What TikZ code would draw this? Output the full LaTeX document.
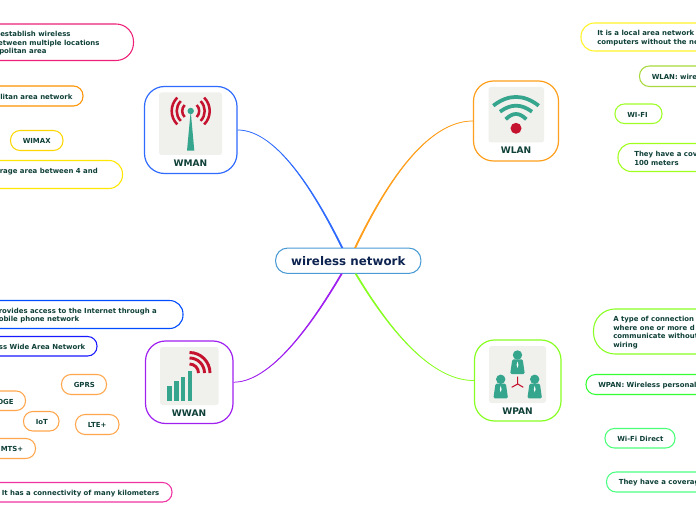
\documentclass[tikz,border=0pt]{standalone}
\usepackage{fontspec}
\setmainfont{DejaVu Sans}
\usetikzlibrary{calc}
\definecolor{ink}{HTML}{0F4038}
\definecolor{navy}{HTML}{0D2350}
\definecolor{teal}{HTML}{35A58D}
\definecolor{redi}{HTML}{C4122F}
\definecolor{iconbg}{HTML}{F0F0EC}
\definecolor{cblue}{HTML}{2F6BFF}
\definecolor{cor}{HTML}{FF9F1C}
\definecolor{cpur}{HTML}{A020F0}
\definecolor{cgrn}{HTML}{88FF22}
\definecolor{croot}{HTML}{4A9BD4}
\tikzset{
 pillbox/.style={draw,line width=0.8pt,fill=white,inner sep=0pt},
 pilltext/.style={inner sep=0pt,align=left,text=ink,anchor=west,
   font=\fontsize{5.2pt}{6.4pt}\selectfont\bfseries},
 branch/.style={draw,line width=0.9pt,fill=white,rounded corners=15pt},
 blabel/.style={text=ink,font=\fontsize{6.8pt}{8pt}\selectfont\bfseries,inner sep=0pt},
 iconback/.style={fill=iconbg,draw=none,rounded corners=2pt},
}
\newcommand{\pillnode}[8]{%
 \pgfmathsetmacro\pw{(#3-#2)*0.75}\pgfmathsetmacro\ph{(#5-#4)*0.75}%
 \pgfmathsetmacro\rr{0.48*\ph}%
 \node[pillbox,draw=#6,minimum width=\pw pt,minimum height=\ph pt,rounded corners=\rr pt] (#1) at ({(#2+#3)/2},{(#4+#5)/2}) {};
 \node[pilltext] (#1t) at ({#2+#8},{(#4+#5)/2+0.9}) {#7};}
\newcommand{\branchnode}[6]{%
 \pgfmathsetmacro\pw{(#3-#2)*0.75}\pgfmathsetmacro\ph{(#5-#4)*0.75}%
 \node[branch,draw=#6,minimum width=\pw pt,minimum height=\ph pt] (#1) at ({(#2+#3)/2},{(#4+#5)/2}) {};}
% tapered connector: colour, from, to, bend point
\newcommand{\linkcurve}[4]{%
 \path[fill=#1,draw=#1,line width=0.55pt]
  ($(#2)+(-0.6,0)$) .. controls ($(#2)!.667!(#4)+(-0.4,0)$) and ($(#3)!.667!(#4)+(0,-0.1)$) .. (#3)
  .. controls ($(#3)!.667!(#4)+(0,0.1)$) and ($(#2)!.667!(#4)+(0.4,0)$) .. ($(#2)+(0.6,0)$) -- cycle;}
\begin{document}
\begin{tikzpicture}[x=0.75pt,y=-0.75pt]
\useasboundingbox (0,0) rectangle (696,520);
\clip (0,0) rectangle (696,520);
\node[draw=white,fill=white,minimum width=522pt,minimum height=390pt,inner sep=0pt,line width=0pt] (page) at (348,260) {};
% central
\node[draw=croot,line width=0.8pt,fill=white,rounded corners=9pt,minimum width=109pt,minimum height=19pt,inner sep=0pt,text=navy,font=\fontsize{8.9pt}{10pt}\selectfont\bfseries] (root) at (348.25,260.75) {wireless network};
% branches
\branchnode{wman}{144.5}{237}{86.5}{173.5}{cblue}
\branchnode{wlan}{473.5}{558.5}{81}{161}{cor}
\branchnode{wwan}{145.5}{233}{341}{423.5}{cpur}
\branchnode{wpan}{474.5}{561}{340}{421}{cgrn}
\node[blabel] (wmanl) at (190.5,163) {WMAN};
\node[blabel] (wlanl) at (516,149.7) {WLAN};
\node[blabel] (wwanl) at (189,413) {WWAN};
\node[blabel] (wpanl) at (517.5,411) {WPAN};
% connectors
\linkcurve{cblue}{root.115}{wman.east}{284,130}
\linkcurve{cor}{root.62}{wlan.west}{416,121}
\linkcurve{cpur}{root.243}{wwan.east}{278,382}
\linkcurve{cgrn}{root.300.5}{wpan.west}{420,380.7}
% left pills
\pillnode{a1}{-23}{133.5}{24}{60.5}{magenta!70!red!90!white}{\hspace*{5.25pt}establish wireless\\between multiple locations\\\hspace*{4.5pt}politan area}{16}
\pillnode{a2}{-12}{83}{86}{106}{orange!85!yellow}{litan area network}{12}
\pillnode{a3}{10.5}{63}{130.5}{150.5}{yellow!75!orange}{WIMAX}{12}
\pillnode{a4}{-16.5}{122.5}{160.5}{188.5}{yellow!90!orange}{rage area between 4 and\\\mbox{}}{16}
\pillnode{b1}{-17.5}{183}{300.5}{328.5}{blue!70!cyan}{rovides access to the Internet through a\\obile phone network}{16}
\pillnode{b2}{-13.3}{97}{336.5}{356}{blue!90!white}{ss Wide Area Network}{12}
\pillnode{b3}{61.5}{106.5}{374.5}{394.5}{orange!70!white}{GPRS}{12}
\pillnode{b4}{-15}{25.5}{391}{410.5}{orange!70!white}{OGE}{12}
\pillnode{b5}{23.5}{59}{411.5}{431}{orange!70!white}{IoT}{12}
\pillnode{b6}{75.5}{119}{414.5}{434.5}{orange!70!white}{LTE+}{12}
\pillnode{b7}{-11.5}{35.5}{438.5}{458.5}{orange!70!white}{MTS+}{12}
\pillnode{b8}{-10.5}{172}{482.5}{502}{magenta!80!white}{It has a connectivity of many kilometers}{12}
% right pills
\pillnode{c1}{581}{760}{23}{51}{yellow!85!white}{It is a local area network\\computers without the ne}{16}
\pillnode{c2}{639.5}{760}{66}{86.5}{yellow!60!green!85!white}{WLAN: wire}{12}
\pillnode{c3}{615}{662}{104}{123.5}{green!45!yellow!85!white}{WI-FI}{12}
\pillnode{c4}{618}{760}{143.5}{171.5}{cgrn!80!yellow}{They have a cov\\100 meters}{16}
\pillnode{d1}{593.5}{760}{309}{354}{cgrn}{A type of connection\\where one or more d\\communicate without\\wiring}{19.5}
\pillnode{d2}{586}{760}{374.5}{394.5}{green!80!white}{WPAN: Wireless personal}{12}
\pillnode{d3}{605}{675}{428.5}{448}{green!75!cyan!70!white}{Wi-Fi Direct}{12}
\pillnode{d4}{606.5}{760}{472}{492}{green!70!cyan!70!white}{They have a coverag}{12}
% WMAN icon
\path[iconback] (159,92.5) rectangle (222,155);
\fill[teal] (190.7,111) -- (187,150.7) -- (194.3,150.7) -- cycle;
\fill[teal] (190.7,111) circle[radius=3.2];
\foreach \r in {8.5,14,19}{
 \draw[redi,line width=1.9pt] ($(190.7,111)+(135:\r)$) arc[start angle=135,end angle=225,radius=\r];
 \draw[redi,line width=1.9pt] ($(190.7,111)+(-45:\r)$) arc[start angle=-45,end angle=45,radius=\r];
}
% WLAN icon
\path[iconback] (488.5,87) rectangle (544,142.5);
\draw[teal,line width=2.8pt] (493.3,105.7) .. controls (508.4,94) and (523.6,94) .. (538.7,105.7);
\draw[teal,line width=2.8pt] (500,111.7) .. controls (510.9,103.7) and (521.1,103.7) .. (532,111.7);
\draw[teal,line width=2.8pt] (505.7,119.3) .. controls (512.9,112.2) and (519.1,112.2) .. (526.3,119.3);
\fill[redi] (516,128.3) circle[radius=5.5];
% WWAN icon
\path[iconback] (160,347) rectangle (218.5,405);
\fill[teal] (167,386) rectangle (171.5,401);
\fill[teal] (174,380.5) rectangle (178.5,401);
\fill[teal] (181,376.5) rectangle (185,401);
\fill[teal] (187.5,371) rectangle (192,401);
\foreach \r in {9,15,20.5}{
 \draw[redi,line width=2.2pt] ($(189.5,373)+(0,-\r)$) arc[start angle=-90,end angle=0,radius=\r];
}
% WPAN icon
\path[iconback] (489,346) rectangle (546,403);
\foreach \cx/\cy in {517.5/355,500.7/379.3,534.7/379.3}{
 \fill[teal] (\cx,\cy) circle[radius=4.7];
 \fill[teal,rounded corners=1pt] ($(\cx,\cy)+(-5.2,4.3)$) -- ($(\cx,\cy)+(5.2,4.3)$) -- ($(\cx,\cy)+(7.3,19)$) -- ($(\cx,\cy)+(-7.3,19)$) -- cycle;
 \fill[white] ($(\cx,\cy)+(0,6.5)$) -- ($(\cx,\cy)+(0.9,10)$) -- ($(\cx,\cy)+(0,13)$) -- ($(\cx,\cy)+(-0.9,10)$) -- cycle;
}
\draw[redi,line width=0.8pt] (517.7,384) -- (517.7,376.7) (517.7,384) -- (511.7,387.3) (517.7,384) -- (523.3,387.3);
\end{tikzpicture}
\end{document}
